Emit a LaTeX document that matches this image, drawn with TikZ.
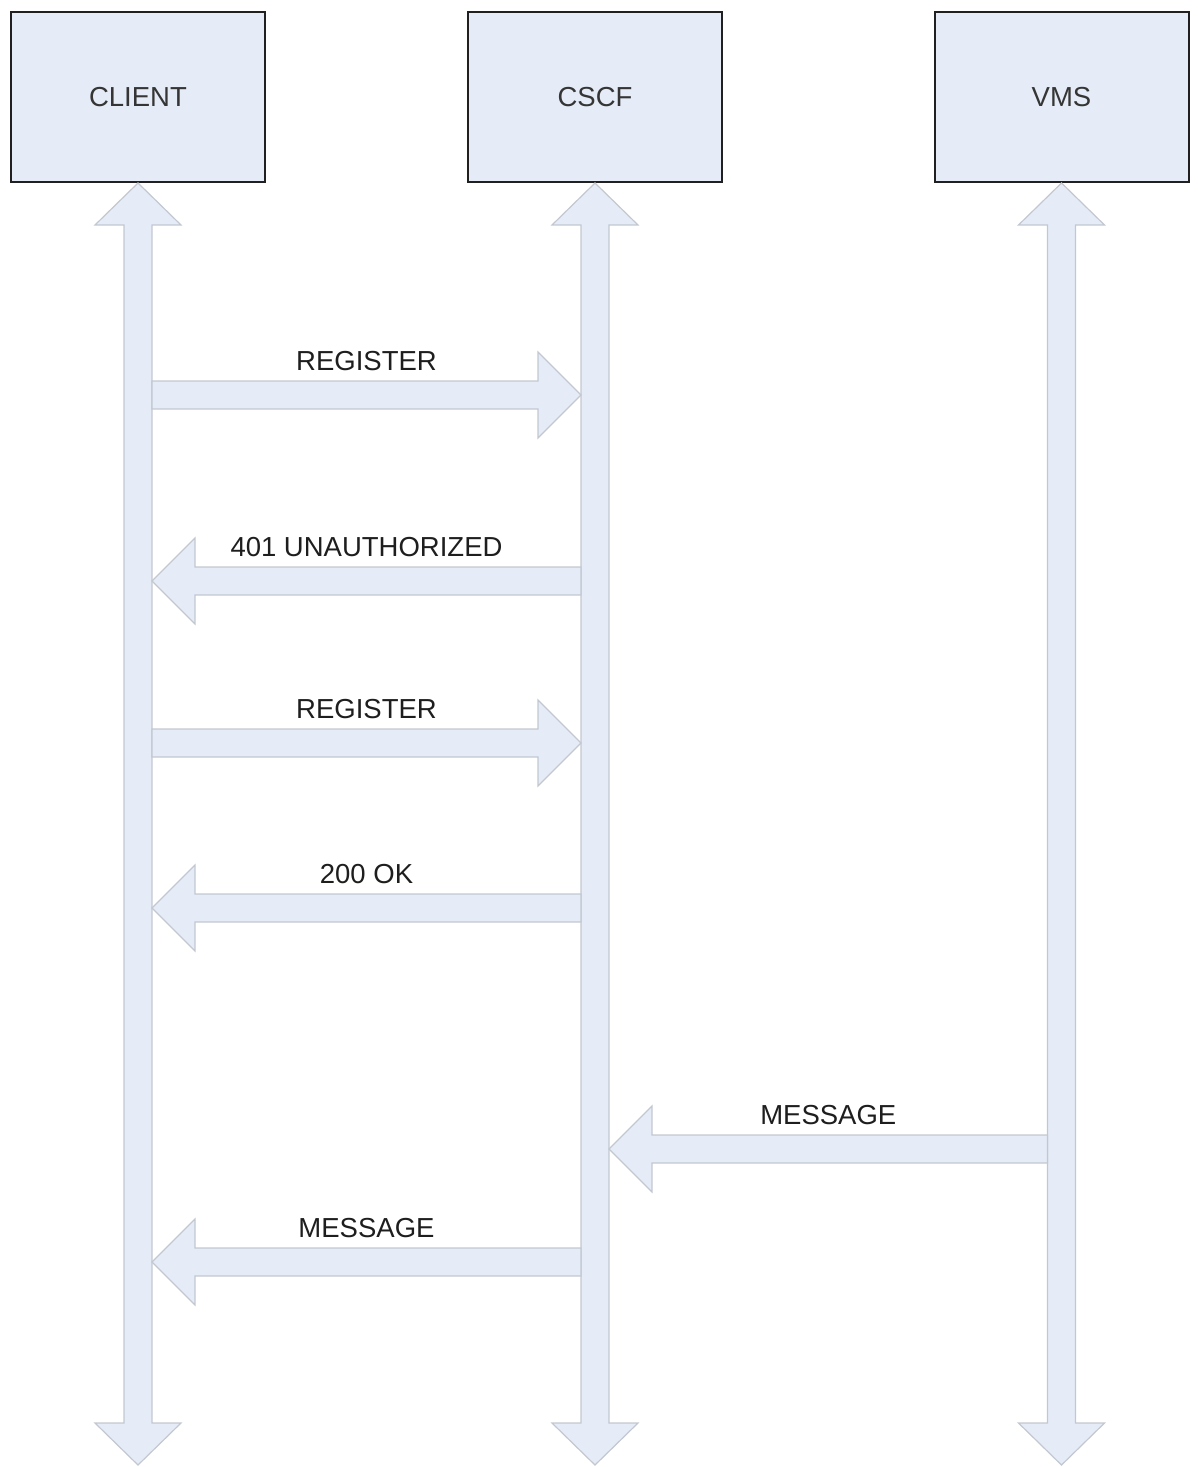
\documentclass[tikz,border=0pt]{standalone}
\usepackage{fontspec}
\setmainfont{Liberation Sans}
\usetikzlibrary{calc}

\definecolor{boxfill}{HTML}{E5ECF7}
\definecolor{arrowline}{HTML}{C3C8D0}
\definecolor{boxline}{HTML}{202020}
\definecolor{labeltext}{HTML}{1E1E1E}

\tikzset{
  entity/.style={draw=boxline, line width=2pt, fill=boxfill,
    minimum width=254pt, minimum height=170pt, inner sep=0pt,
    font=\fontsize{27.5}{33}\selectfont, text=labeltext!90},
  blockarrow/.style={draw=arrowline, line width=1.2pt, fill=boxfill, line join=miter},
  msglabel/.style={anchor=base, inner sep=0pt,
    font=\fontsize{27.5}{33}\selectfont, text=labeltext},
}

% lifeline: double block arrow from the bottom of a box down to an end point
\newcommand\lifelinearrow[2]{%
  \draw[blockarrow] let \p1=(#1.south), \p2=(#2) in
    (\x1,\y1) -- ({\x1+43pt},{\y1-42pt}) -- ({\x1+14pt},{\y1-42pt})
    -- ({\x1+14pt},{\y2+42pt}) -- ({\x1+43pt},{\y2+42pt}) -- (\x1,\y2)
    -- ({\x1-43pt},{\y2+42pt}) -- ({\x1-14pt},{\y2+42pt})
    -- ({\x1-14pt},{\y1-42pt}) -- ({\x1-43pt},{\y1-42pt}) -- cycle;}

% message: horizontal block arrow from #1 to #2, labelled #3 above its middle
\newcommand\msgarrow[4]{%
  \draw[blockarrow] let \p1=(#1), \p2=(#2), \n1={sign(\x2-\x1)} in
    (\x1,{\y1+14pt}) -- ({\x2-\n1*43pt},{\y1+14pt}) -- ({\x2-\n1*43pt},{\y1+43pt})
    -- (\x2,\y2) -- ({\x2-\n1*43pt},{\y1-43pt}) -- ({\x2-\n1*43pt},{\y1-14pt})
    -- (\x1,{\y1-14pt}) -- cycle;
  \node[msglabel] (#4) at ($(#1)!0.5!(#2)+(0,-25)$) {#3};}

\begin{document}
\begin{tikzpicture}[x=1pt,y=-1pt]
\useasboundingbox (0,0) rectangle (1197,1467);

% participants
\node[entity] (client) at (138,97) {CLIENT};
\node[entity] (cscf) at (595,97) {CSCF};
\node[entity] (vms) at (1061.5,97) {VMS};

% lifeline ends
\coordinate (clientend) at (138,1465);
\coordinate (cscfend) at (595,1465);
\coordinate (vmsend) at (1061.5,1465);

\lifelinearrow{client}{clientend}
\lifelinearrow{cscf}{cscfend}
\lifelinearrow{vms}{vmsend}

% message end points on the lifeline edges
\coordinate (reg1a) at (152,395);   \coordinate (reg1b) at (581,395);
\coordinate (unauthA) at (581,581); \coordinate (unauthB) at (152,581);
\coordinate (reg2a) at (152,743);   \coordinate (reg2b) at (581,743);
\coordinate (okA) at (581,908);     \coordinate (okB) at (152,908);
\coordinate (vmsmsgA) at (1047.5,1149); \coordinate (vmsmsgB) at (609,1149);
\coordinate (msgA) at (581,1262);   \coordinate (msgB) at (152,1262);

\msgarrow{reg1a}{reg1b}{REGISTER}{lreg1}
\msgarrow{unauthA}{unauthB}{401 UNAUTHORIZED}{lunauth}
\msgarrow{reg2a}{reg2b}{REGISTER}{lreg2}
\msgarrow{okA}{okB}{200 OK}{lok}
\msgarrow{vmsmsgA}{vmsmsgB}{MESSAGE}{lvmsmsg}
\msgarrow{msgA}{msgB}{MESSAGE}{lmsg}
\end{tikzpicture}
\end{document}
